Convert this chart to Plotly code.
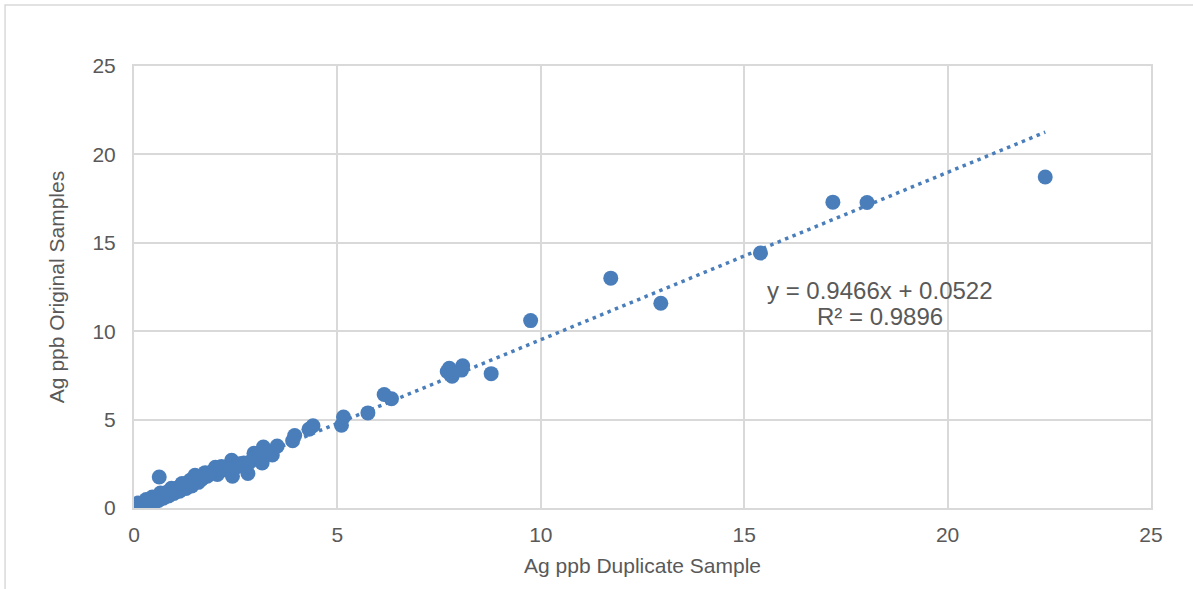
import plotly.graph_objects as go

# Ag ppb: duplicate (x) vs original (y)
dup_x = [0.02, 0.03, 0.05, 0.08, 0.10, 0.12, 0.15, 0.18, 0.20, 0.22, 0.25, 0.28, 0.30, 0.33, 0.35,
         0.38, 0.40, 0.42, 0.45, 0.48, 0.50, 0.52, 0.55, 0.58, 0.60, 0.62, 0.65, 0.68, 0.70, 0.72,
         0.75, 0.78, 0.80, 0.82, 0.85, 0.88, 0.90, 0.95, 1.00, 1.02, 1.05, 1.10, 1.15, 1.20, 1.25,
         1.30, 1.35, 1.40, 1.45, 1.50, 1.55, 1.60, 1.65, 1.70, 1.80, 1.90, 1.95, 2.00, 2.05, 2.10,
         2.20, 2.30, 2.35, 2.40, 2.42, 2.50, 2.60, 2.70, 2.80, 2.85, 2.95, 3.00, 3.10, 3.15, 3.18,
         3.30, 3.40, 3.52, 3.90, 3.95, 4.30, 4.40, 5.10, 5.15, 5.75, 6.15, 6.33, 7.70, 7.75, 7.82,
         8.08, 8.05, 8.78, 9.75, 11.72, 12.95, 15.40, 17.18, 18.02, 22.40, 0.62,
         0.00, 0.06, 0.14, 0.25, 0.35, 0.48, 0.60, 0.72, 0.85, 0.98, 1.12, 1.28, 1.42, 1.58,
         0.10, 0.30, 0.45, 0.65, 0.92, 1.18, 1.50, 1.75, 2.15, 2.55]
orig_y = [0.05, 0.02, 0.10, 0.04, 0.15, 0.08, 0.18, 0.12, 0.22, 0.16, 0.20, 0.30, 0.25, 0.28, 0.38,
          0.33, 0.42, 0.36, 0.48, 0.42, 0.55, 0.47, 0.60, 0.52, 0.66, 0.58, 0.70, 0.64, 0.78, 0.70,
          0.82, 0.76, 0.88, 0.80, 0.92, 0.86, 0.98, 1.02, 1.08, 0.98, 1.12, 1.15, 1.10, 1.22, 1.30,
          1.35, 1.50, 1.60, 1.55, 1.70, 1.65, 1.75, 1.60, 1.72, 1.80, 1.95, 2.10, 2.30, 1.90, 2.05,
          2.20, 2.15, 2.40, 2.70, 1.80, 2.30, 2.50, 2.55, 1.95, 2.60, 3.10, 2.90, 2.85, 2.55, 3.45,
          3.10, 3.00, 3.50, 3.80, 4.10, 4.45, 4.65, 4.68, 5.15, 5.38, 6.42, 6.18, 7.72, 7.90, 7.45,
          8.05, 7.80, 7.60, 10.60, 13.00, 11.58, 14.42, 17.30, 17.28, 18.72, 1.75,
          0.00, 0.00, 0.02, 0.10, 0.18, 0.30, 0.42, 0.55, 0.68, 0.82, 0.95, 1.10, 1.25, 1.45,
          0.28, 0.48, 0.62, 0.85, 1.12, 1.38, 1.85, 2.00, 2.35, 2.45]

slope = 0.9466
intercept = 0.0522
trend_x = [0.0, 22.4]
trend_y = [slope * v + intercept for v in trend_x]

tick_vals = [0, 5, 10, 15, 20, 25]
tick_text = ["0", "5", "10", "15", "20", "25"]

blue = "#4a7ebb"
grid = "#d9d9d9"
txt = "#595959"
font = "Liberation Sans, Arial, sans-serif"

fig = go.Figure()
fig.add_trace(go.Scatter(x=trend_x, y=trend_y, mode="lines",
                         line=dict(color=blue, width=3.5, dash="3.5px,4.5px"),
                         hoverinfo="skip", showlegend=False))
fig.add_trace(go.Scatter(x=dup_x, y=orig_y, mode="markers",
                         marker=dict(color=blue, size=15, line=dict(width=0)),
                         showlegend=False))

fig.add_annotation(x=0.7335, y=0.493, xref="paper", yref="paper", showarrow=False,
                   xanchor="center", yanchor="middle",
                   text="y = 0.9466x + 0.0522",
                   font=dict(family=font, size=24, color=txt))
fig.add_annotation(x=0.7335, y=0.434, xref="paper", yref="paper", showarrow=False,
                   xanchor="center", yanchor="middle",
                   text="R² = 0.9896",
                   font=dict(family=font, size=24, color=txt))

# outer chart border (top/left visible)
fig.add_shape(type="rect", xref="paper", yref="paper",
              x0=-0.1268, x1=1.2, y0=-0.3, y1=1.138,
              line=dict(color=grid, width=1.5), fillcolor="rgba(0,0,0,0)", layer="below")

fig.update_layout(
    width=1193, height=589,
    margin=dict(l=134, r=42, t=66, b=81),
    paper_bgcolor="white", plot_bgcolor="white",
    font=dict(family=font, size=21, color=txt),
    hovermode=False,
    xaxis=dict(range=[0, 25], tickvals=tick_vals, ticktext=tick_text,
               showgrid=True, gridcolor=grid, gridwidth=2, zeroline=False,
               showline=True, linecolor=grid, linewidth=2, mirror=True,
               ticks="", ticklabelstandoff=7,
               title=dict(text="Ag ppb Duplicate Sample", standoff=13,
                          font=dict(size=21, color=txt))),
    yaxis=dict(range=[0, 25], tickvals=tick_vals, ticktext=tick_text,
               showgrid=True, gridcolor=grid, gridwidth=2, zeroline=False,
               showline=True, linecolor=grid, linewidth=2, mirror=True,
               ticks="", ticklabelstandoff=12,
               title=dict(text="Ag ppb Original Samples", standoff=22,
                          font=dict(size=21, color=txt))),
)

fig.write_html("out.html", config={"displayModeBar": False},
               post_script="document.body.style.margin='0';document.body.style.overflow='hidden';")
